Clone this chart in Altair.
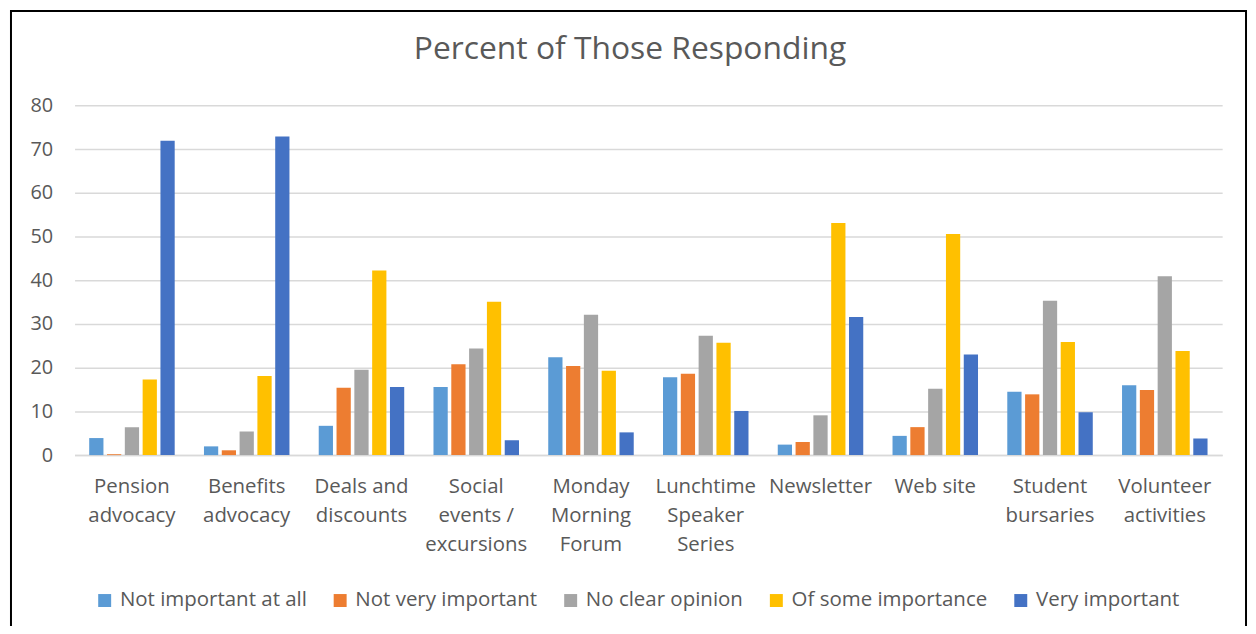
import altair as alt
import pandas as pd

categories = ["Pension\nadvocacy", "Benefits\nadvocacy", "Deals and\ndiscounts",
              "Social\nevents /\nexcursions", "Monday\nMorning\nForum",
              "Lunchtime\nSpeaker\nSeries", "Newsletter", "Web site",
              "Student\nbursaries", "Volunteer\nactivities"]
series = ["Not important at all", "Not very important", "No clear opinion",
          "Of some importance", "Very important"]
colors = ["#5b9bd5", "#ed7d31", "#a5a5a5", "#ffc000", "#4472c4"]
chart_title = ["Percent of Those Responding"]

not_important_at_all = [3.9, 2.0, 6.7, 15.6, 22.4, 17.8, 2.4, 4.4, 14.5, 16.0]
not_very_important = [0.2, 1.1, 15.4, 20.8, 20.4, 18.6, 3.0, 6.4, 13.9, 14.9]
no_clear_opinion = [6.4, 5.4, 19.5, 24.4, 32.1, 27.3, 9.1, 15.2, 35.3, 40.9]
of_some_importance = [17.3, 18.1, 42.2, 35.1, 19.3, 25.7, 53.1, 50.6, 25.9, 23.8]
very_important = [71.9, 72.9, 15.6, 3.4, 5.2, 10.1, 31.6, 23.0, 9.8, 3.8]

values = [not_important_at_all, not_very_important, no_clear_opinion,
          of_some_importance, very_important]

rows = []
for s, vals in zip(series, values):
    for c, v in zip(categories, vals):
        rows.append({"category": c, "series": s, "value": v})
df = pd.DataFrame(rows)

FONT = "Open Sans"
GREY = "#595959"

bars = alt.Chart(df).mark_bar().encode(
    x=alt.X("category:N", sort=categories, title=None,
            scale=alt.Scale(paddingInner=0.255, paddingOuter=0.1275),
            axis=alt.Axis(labelAngle=0, labelExpr="split(datum.label, '\\n')",
                          labelFontSize=20.5, labelColor=GREY, labelFont=FONT,
                          labelLineHeight=29, labelPadding=22, ticks=False,
                          domainColor="#d9d9d9", domainWidth=1.5, labelBaseline="top")),
    xOffset=alt.XOffset("series:N", sort=series,
                        scale=alt.Scale(paddingInner=0.2, paddingOuter=0)),
    y=alt.Y("value:Q", title=None,
            scale=alt.Scale(domain=[0, 80], nice=False),
            axis=alt.Axis(values=[0, 10, 20, 30, 40, 50, 60, 70, 80],
                          labelFontSize=20, labelColor=GREY, labelFont=FONT,
                          labelPadding=22, ticks=False, domain=False,
                          gridColor="#d9d9d9", gridWidth=1.5)),
    color=alt.Color("series:N", sort=series,
                    scale=alt.Scale(domain=series, range=colors),
                    legend=alt.Legend(title=None, orient="none", direction="horizontal",
                                      legendX=20, legendY=488,
                                      symbolType="square", symbolSize=170,
                                      symbolStrokeWidth=0, labelLimit=0,
                                      labelFontSize=20.6, labelColor=GREY, labelFont=FONT,
                                      labelOffset=5, columnPadding=23)),
)

title = alt.Chart(pd.DataFrame({"t": chart_title})).mark_text(
    font=FONT, fontSize=32, color=GREY, align="center", baseline="alphabetic"
).encode(x=alt.value(559), y=alt.value(-47), text="t:N")

border = alt.Chart(pd.DataFrame({"a": [0]})).mark_rect(
    fill=None, stroke="black", strokeWidth=2, clip=False
).encode(x=alt.value(-64), x2=alt.value(1179), y=alt.value(-95), y2=alt.value(540))

chart = alt.layer(bars, title, border).properties(
    width=1155, height=352,
    padding={"left": 67, "top": 96, "right": 26, "bottom": 170},
    autosize=alt.AutoSizeParams(type="none"),
).configure_view(stroke=None)

chart.save("out.html", embed_options={"renderer": "svg", "actions": False})
